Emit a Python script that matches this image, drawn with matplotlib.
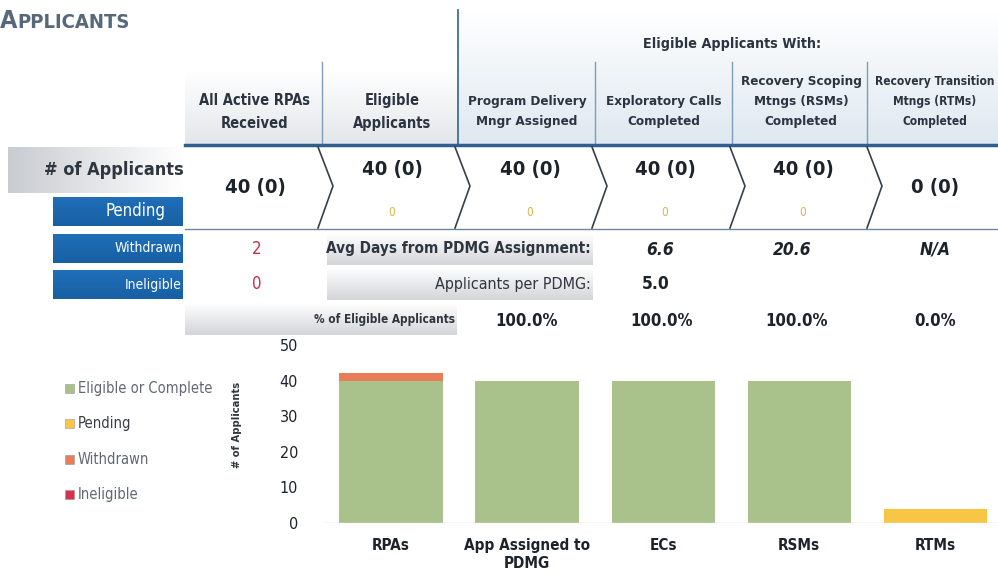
import numpy as np
import matplotlib
matplotlib.use("Agg")
import matplotlib.pyplot as plt
from matplotlib import colors as mcolors
from matplotlib import font_manager

# pick a narrow font if one is installed
fonts = font_manager.fontManager.ttflist
if any(f.name == "Liberation Sans Narrow" for f in fonts):
    FAM, STRETCH = "Liberation Sans Narrow", "normal"
elif any(f.name == "DejaVu Sans" and f.stretch == "condensed" for f in fonts):
    FAM, STRETCH = "DejaVu Sans", "condensed"
else:
    FAM, STRETCH = "Liberation Sans", "normal"
plt.rcParams['font.family'] = [FAM, 'DejaVu Sans']
plt.rcParams['font.stretch'] = STRETCH

# ---- data ----
col_headers = ["All Active RPAs\nReceived", "Eligible\nApplicants", "Program Delivery\nMngr Assigned",
               "Exploratory Calls\nCompleted", "Recovery Scoping\nMtngs (RSMs)\nCompleted",
               "Recovery Transition\nMtngs (RTMs)\nCompleted"]
n_applicants = ["40 (0)", "40 (0)", "40 (0)", "40 (0)", "40 (0)", "0 (0)"]
pending_vals = ["", "0", "0", "0", "0", ""]
withdrawn_val = "2"
ineligible_val = "0"
avg_days = ["6.6", "20.6", "N/A"]
apps_per_pdmg = "5.0"
pct_eligible = ["100.0%", "100.0%", "100.0%", "0.0%"]

categories = ["RPAs", "App Assigned to\nPDMG", "ECs", "RSMs", "RTMs"]
eligible = [40, 40, 40, 40, 0]
pending = [0, 0, 0, 0, 4]
withdrawn = [2, 0, 0, 0, 0]
ineligible = [0, 0, 0, 0, 0]
legend_labels = ["Eligible or Complete", "Pending", "Withdrawn", "Ineligible"]
bar_colors = ["#a9c28c", "#f6c644", "#e97d57", "#d6324f"]

W, H = 998, 581
fig = plt.figure(figsize=(W / 100, H / 100), dpi=100)
bg = fig.add_axes([0, 0, 1, 1], zorder=0)
bg.set_xlim(0, W)
bg.set_ylim(H, 0)
bg.axis("off")


def grad(x0, x1, y0, y1, c0, c1, horizontal=False):
    # c0 at top/left, c1 at bottom/right
    a = np.array(mcolors.to_rgb(c0))
    b = np.array(mcolors.to_rgb(c1))
    t = np.linspace(0, 1, 64)[:, None]
    arr = a * (1 - t) + b * t
    if horizontal:
        arr = arr[None, :, :]
    else:
        arr = arr[:, None, :]
    bg.imshow(arr, extent=(x0, x1, y1, y0), origin="upper", aspect="auto",
              interpolation="bilinear", zorder=1)


# title
bg.text(0, 21, "A", fontsize=18, fontweight="bold", color="#56697b", va="center", ha="left")
bg.text(17, 22, "PPLICANTS", fontsize=14.5, fontweight="bold", color="#56697b",
        va="center", ha="left")

# header backgrounds
grad(458, W, 10, 145, "#ffffff", "#dfe8f0")
grad(185, 458, 70, 145, "#ffffff", "#e3e6ea")
bg.text(732, 44, "Eligible Applicants With:", fontsize=10.3, fontweight="bold",
        color="#2b3440", ha="center", va="center")

# vertical separators in header
bg.plot([458, 458], [10, 145], color="#3f6f9a", lw=1.3, zorder=3)
for x in [322, 595, 732, 867]:
    bg.plot([x, x], [62, 145], color="#7f9db8", lw=1.0, zorder=3)

head_x = [255, 392, 527, 664, 801, 935]
head_fs = [10.5, 10.5, 9.6, 9.6, 9.6, 8.6]
for x, t, fs in zip(head_x, col_headers, head_fs):
    y = 112 if t.count("\n") == 1 else 101
    bg.text(x, y, t, fontsize=fs, fontweight="bold", color="#2b3440", ha="center",
            va="center", linespacing=1.7 if fs < 10 else 1.6)

# main header line and row line
bg.plot([185, W], [145, 145], color="#2f5f8c", lw=2.5, zorder=4)
bg.plot([185, W], [229, 229], color="#6f8599", lw=1.0, zorder=4)

# "# of Applicants" label
grad(8, 185, 147, 193, "#c9ccd1", "#ffffff", horizontal=True)
bg.text(184, 170, "# of Applicants", fontsize=13, fontweight="bold", color="#2f3640",
        ha="right", va="center", zorder=5)

# blue row labels
for (y0, y1, lab, fs, tx) in [(197, 226, "Pending", 12, 166), (234, 263, "Withdrawn", 10, 182),
                              (270, 299, "Ineligible", 10, 182)]:
    grad(53, 183, y0, y1, "#1f6fb9", "#175fa3")
    bg.text(tx, (y0 + y1) / 2, lab, fontsize=fs, color="white", ha="right",
            va="center", zorder=5)

# chevrons
for x in [318, 455, 592, 730, 867]:
    bg.plot([x, x + 15, x], [147, 186, 228], color="#34404c", lw=1.2, zorder=4)

val_x = [255, 392, 530, 665, 803, 935]
val_y = [187, 170, 170, 170, 170, 187]
for x, y, v in zip(val_x, val_y, n_applicants):
    bg.text(x, y, v, fontsize=14.5, fontweight="bold", color="#1c232b", ha="center",
            va="center", zorder=5)
for x, v in zip(val_x, pending_vals):
    if v:
        bg.text(x, 212, v, fontsize=8.5, color="#d7b64a", ha="center", va="center", zorder=5)

bg.text(257, 249, withdrawn_val, fontsize=12, color="#c0304a", ha="center", va="center")
bg.text(257, 284, ineligible_val, fontsize=12, color="#c0304a", ha="center", va="center")

# grey metric boxes
grad(327, 593, 233, 265, "#ffffff", "#d3d5d9")
grad(327, 593, 267, 300, "#ffffff", "#d3d5d9")
grad(185, 457, 303, 335, "#ffffff", "#d3d5d9")
bg.text(591, 249, "Avg Days from PDMG Assignment:", fontsize=11, fontweight="bold",
        color="#2f3640", ha="right", va="center", zorder=5)
bg.text(591, 284, "Applicants per PDMG:", fontsize=11.5, color="#2f3640",
        ha="right", va="center", zorder=5)
bg.text(455, 319, "% of Eligible Applicants", fontsize=8.5, fontweight="bold",
        color="#2f3640", ha="right", va="center", zorder=5)

for x, v in zip([660, 792, 935], avg_days):
    bg.text(x, 250, v, fontsize=12.5, fontweight="bold", fontstyle="italic",
            color="#1c232b", ha="center", va="center")
bg.text(656, 284, apps_per_pdmg, fontsize=12.5, fontweight="bold", color="#1c232b",
        ha="center", va="center")
for x, v in zip([527, 662, 797, 935], pct_eligible):
    bg.text(x, 321, v, fontsize=12, fontweight="bold", color="#1c232b", ha="center",
            va="center")

# legend
for i, (lab, c) in enumerate(zip(legend_labels, bar_colors)):
    y = 388 + i * 35.5
    bg.add_patch(plt.Rectangle((65, y - 4.5), 9, 9, facecolor=c, edgecolor="#999999",
                               lw=0.4, zorder=5))
    bg.text(78, y, lab, fontsize=10.5,
            color="#3a3f46" if i == 1 else "#5f6973", ha="left", va="center")

# ---- bar chart ----
ax = fig.add_axes([323 / W, (H - 523) / H, (W - 323) / W, (523 - 345) / H], zorder=2)
ax.patch.set_alpha(0)
x = np.arange(len(categories))
bottom = np.zeros(len(categories))
for vals, c in zip([eligible, pending, withdrawn, ineligible], bar_colors):
    ax.bar(x, vals, width=0.76, bottom=bottom, color=c, edgecolor="none")
    bottom = bottom + np.array(vals)
ax.set_xlim(-0.5, 4.46)
ax.set_ylim(0, 50)
ax.set_yticks([0, 10, 20, 30, 40, 50])
ax.set_xticks(x)
ax.set_xticklabels(categories, fontsize=11, fontweight="bold", color="#1c232b")
ax.tick_params(axis="y", length=0, pad=18, labelsize=11.5, labelcolor="#1c232b")
ax.tick_params(axis="x", length=0, pad=11)
for s in ax.spines.values():
    s.set_visible(False)
ax.axhline(0, color="#dddddd", lw=1)
ax.set_ylabel("# of Applicants", fontsize=8, fontweight="bold", color="#2f3640")
ax.yaxis.set_label_coords(-0.12, 0.55)

fig.savefig("out.png", dpi=100)
